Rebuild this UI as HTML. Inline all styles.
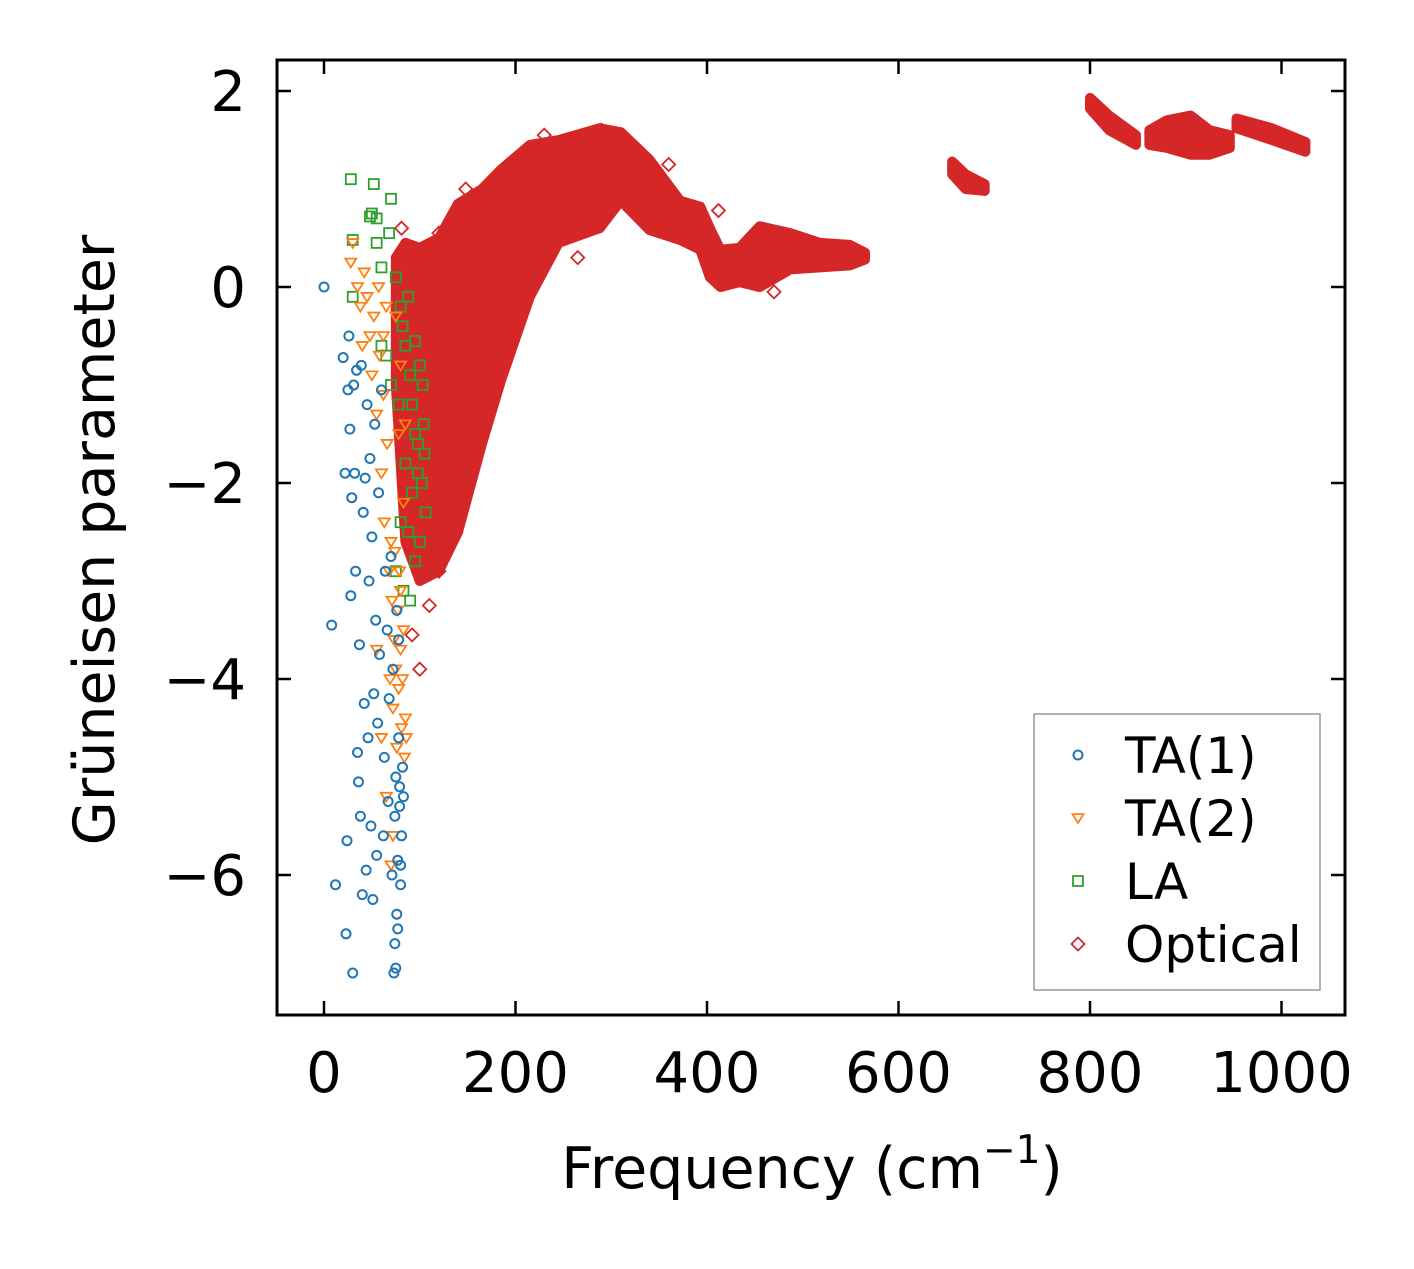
<!DOCTYPE html>
<html><head><meta charset="utf-8"><style>
body{margin:0;background:#fff}
svg text{font-family:"DejaVu Sans","Liberation Sans",sans-serif;fill:#000}
</style></head><body>
<svg id="chart" width="1414" height="1264" viewBox="0 0 1414 1264" xmlns="http://www.w3.org/2000/svg">
<rect width="1414" height="1264" fill="#fff"/>
<g id="marks"></g>
<rect x="277" y="60" width="1068" height="955" fill="none" stroke="#000" stroke-width="3"/>
<g id="axes"></g>
<text x="812" y="1188" font-size="57" text-anchor="middle">Frequency (cm<tspan font-size="39" dy="-25">−1</tspan><tspan dy="25">)</tspan></text>
<text transform="translate(114,540) rotate(-90)" font-size="57" text-anchor="middle">Grüneisen parameter</text>
<g>
<rect x="1034" y="714" width="286" height="276" fill="#fff" stroke="#999" stroke-width="1.5"/>
<g id="legend-items"></g>
</g>
</svg>
<script>
const xTicks=[0,200,400,600,800,1000];
const yTicks=[2,0,-2,-4,-6];
const ta1F=[0,8,12,20,22,23,24,25,26,27,28,29,30,31,32,33,34,35,36,37,38,39,40,41,42,43,44,45,46,47,48,49,50,51,52,53,54,55,56,57,58,60,62,63,64,66,67,68,70,71,72,73,74,75,76,77,78,79,80,81,82,83,74,76,78,80,77,75,79];
const ta1G=[0,-3.45,-6.1,-0.72,-1.9,-6.6,-5.65,-1.05,-0.5,-1.45,-3.15,-2.15,-7.0,-1.0,-1.9,-2.9,-0.85,-4.75,-5.05,-3.65,-5.4,-0.8,-6.2,-2.3,-4.25,-1.95,-5.95,-1.2,-4.6,-3.0,-1.75,-5.5,-2.55,-6.25,-4.15,-1.4,-3.4,-5.8,-4.45,-2.1,-3.75,-1.05,-5.6,-4.8,-2.9,-3.5,-5.25,-4.2,-2.75,-6.0,-3.9,-7.0,-6.7,-5.0,-6.4,-5.85,-4.6,-5.3,-6.1,-5.6,-4.9,-5.2,-5.4,-3.3,-3.6,-5.9,-6.55,-6.95,-5.1];
const ta2F=[30,28,35,38,40,42,45,48,50,52,55,58,60,62,63,65,66,68,69,70,71,72,73,74,75,76,77,78,79,80,81,82,83,84,85,86,55,60,65,70,72,80,75,78,80,83,85,62,57];
const ta2G=[0.45,0.25,0.0,-0.2,-0.6,0.15,-0.1,-0.5,-0.9,-0.3,-1.3,-0.7,-1.9,-1.1,-2.4,-0.2,-1.6,-2.9,-4.0,-2.6,-3.2,-4.3,-3.6,-2.7,-3.9,-4.7,-3.3,-4.1,-2.9,-3.7,-4.5,-4.0,-3.5,-4.8,-4.4,-4.6,-3.7,-4.6,-5.2,-5.9,-5.6,-3.1,-0.3,-1.5,-0.8,-2.2,-1.4,-0.5,0.0];
const laF=[28,50,52,55,70,48,30,55,68,60,30,75,80,82,85,88,90,92,95,98,100,102,104,106,85,88,92,95,98,100,103,80,75,78,83,95,105,90,65,70,60];
const laG=[1.1,0.75,1.05,0.7,0.9,0.72,0.48,0.45,0.55,0.2,-0.1,0.1,-0.2,-0.4,-0.6,-0.1,-0.9,-1.2,-0.55,-1.6,-0.8,-2.0,-1.4,-2.3,-1.8,-2.5,-2.1,-2.8,-1.9,-2.6,-1.0,-2.4,-2.9,-1.2,-3.1,-1.5,-1.7,-3.2,-0.7,-1.0,-0.6];
const optF=[81,148,120,290,360,412,265,470,92,110,100,120,140,105,95,230];
const optG=[0.6,1.0,0.55,1.6,1.25,0.78,0.3,-0.05,-3.55,-3.25,-3.9,-2.9,-2.3,-1.0,-0.5,1.55];
const band1F=[75,85,100,120,140,165,185,215,245,288,310,340,372,393,403,414,434,455,487,518,549,565];
const band1Hi=[0.3,0.45,0.4,0.5,0.85,1.0,1.2,1.45,1.5,1.62,1.58,1.3,0.88,0.82,0.6,0.38,0.4,0.62,0.55,0.45,0.43,0.35];
const band1Lo=[-1.0,-2.6,-3.0,-2.9,-2.5,-1.6,-0.95,-0.1,0.45,0.6,0.88,0.58,0.48,0.38,0.1,0.0,0.05,0.0,0.18,0.2,0.22,0.28];
const band2F=[656,670,690], band2Hi=[1.28,1.15,1.05], band2Lo=[1.15,1.0,0.98];
const band3F=[800,820,848], band3Hi=[1.93,1.75,1.55], band3Lo=[1.82,1.6,1.45];
const band4F=[862,880,905,925,946], band4Hi=[1.6,1.7,1.75,1.6,1.55], band4Lo=[1.45,1.42,1.35,1.35,1.42];
const band5F=[953,990,1025], band5Hi=[1.72,1.62,1.48], band5Lo=[1.62,1.5,1.38];

const NS='http://www.w3.org/2000/svg';
const X=f=>324+f*0.9575;
const Y=g=>287-g*98;
const C={b:'#1f77b4',o:'#ff7f0e',g:'#2ca02c',r:'#d62728'};
const marks=document.getElementById('marks');
const axes=document.getElementById('axes');
function mk(tag,a,parent){const e=document.createElementNS(NS,tag);for(const k in a)e.setAttribute(k,a[k]);parent.appendChild(e);return e;}

[[band1F,band1Hi,band1Lo],[band2F,band2Hi,band2Lo],[band3F,band3Hi,band3Lo],[band4F,band4Hi,band4Lo],[band5F,band5Hi,band5Lo]].forEach((b,i)=>{
  const pts=b[0].map((f,j)=>X(f)+','+Y(b[1][j])).concat(b[0].map((f,j)=>X(f)+','+Y(b[2][j])).reverse());
  const p=mk('polygon',{points:pts.join(' '),fill:C.r,stroke:C.r,'stroke-width':10,'stroke-linejoin':'round'},marks);
  
  
});
function diamond(cx,cy,s){return `${cx},${cy-s} ${cx+s},${cy} ${cx},${cy+s} ${cx-s},${cy}`;}
optF.forEach((f,i)=>{
  const p=mk('polygon',{points:diamond(X(f),Y(optG[i]),6.5),fill:'none',stroke:C.r,'stroke-width':1.8},marks);
  
  
});
laF.forEach((f,i)=>{
  const p=mk('rect',{x:X(f)-5,y:Y(laG[i])-5,width:10,height:10,fill:'none',stroke:C.g,'stroke-width':1.8},marks);
  
  
});
function tri(cx,cy,s){return `${cx-s},${cy-s*0.7} ${cx+s},${cy-s*0.7} ${cx},${cy+s*0.9}`;}
ta2F.forEach((f,i)=>{
  const p=mk('polygon',{points:tri(X(f),Y(ta2G[i]),5.5),fill:'none',stroke:C.o,'stroke-width':1.8},marks);
  
  
});
ta1F.forEach((f,i)=>{
  const p=mk('circle',{cx:X(f),cy:Y(ta1G[i]),r:4.5,fill:'none',stroke:C.b,'stroke-width':2},marks);
  
  
});

xTicks.forEach(t=>{
  const x=X(t);
  mk('line',{x1:x,y1:1015,x2:x,y2:1001,stroke:'#000','stroke-width':2.5},axes);
  mk('line',{x1:x,y1:60,x2:x,y2:74,stroke:'#000','stroke-width':2.5},axes);
  const tx=mk('text',{x:x,y:1092,'font-size':56,'text-anchor':'middle'},axes);
  tx.textContent=String(t);
  
  
});
yTicks.forEach(t=>{
  const y=Y(t);
  mk('line',{x1:277,y1:y,x2:291,y2:y,stroke:'#000','stroke-width':2.5},axes);
  mk('line',{x1:1345,y1:y,x2:1331,y2:y,stroke:'#000','stroke-width':2.5},axes);
  const tx=mk('text',{x:246,y:y+20,'font-size':56,'text-anchor':'end'},axes);
  tx.textContent=t<0?'−'+Math.abs(t):String(t);
  
  
});

const lg=document.getElementById('legend-items');
const legendLabels=['TA(1)','TA(2)','LA','Optical'];
legendLabels.forEach((l,i)=>{
  const y=755+i*63, x=1078;
  let m;
  if(i===0) m=mk('circle',{cx:x,cy:y,r:4.5,fill:'none',stroke:C.b,'stroke-width':2},lg);
  if(i===1) m=mk('polygon',{points:tri(x,y,5.5),fill:'none',stroke:C.o,'stroke-width':1.8},lg);
  if(i===2) m=mk('rect',{x:x-5,y:y-5,width:10,height:10,fill:'none',stroke:C.g,'stroke-width':1.8},lg);
  if(i===3) m=mk('polygon',{points:diamond(x,y,6.5),fill:'none',stroke:C.r,'stroke-width':1.8},lg);
  
  
  const t=mk('text',{x:1125,y:y+18,'font-size':50},lg);
  t.textContent=l;
  
  
});
</script>
</body></html>
